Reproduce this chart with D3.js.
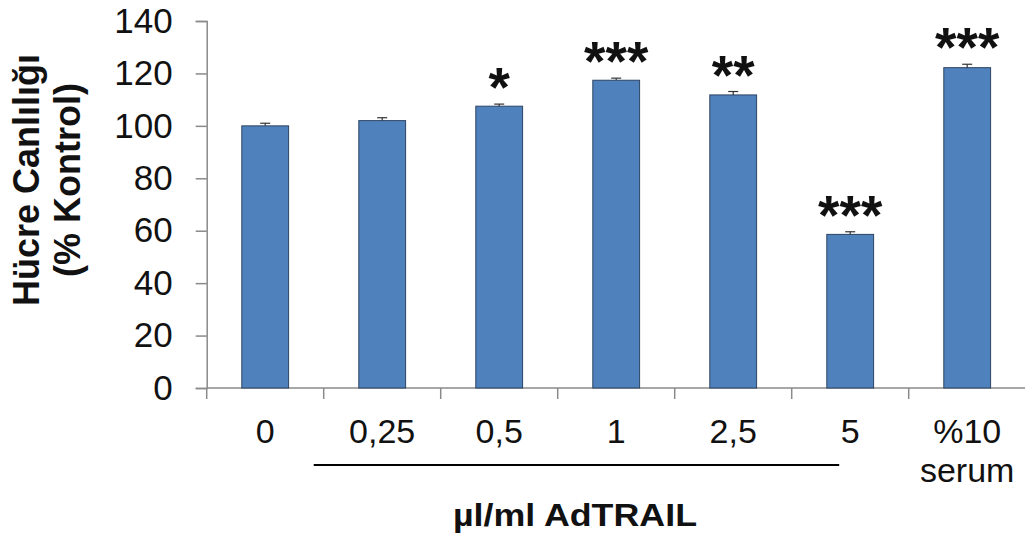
<!DOCTYPE html>
<html>
<head>
<meta charset="utf-8">
<script src="https://cdn.jsdelivr.net/npm/d3@7"></script>
<style>
  html, body { margin: 0; padding: 0; background: #fff; }
  svg { display: block; font-family: Arial, "Liberation Sans", sans-serif; }
</style>
</head>
<body>
<svg id="chart" width="1025" height="535"></svg>
<script>
// ---- data ----
const categories = ["0", "0,25", "0,5", "1", "2,5", "5", "%10 serum"];
const categoryLines = [["0"], ["0,25"], ["0,5"], ["1"], ["2,5"], ["5"], ["%10", "serum"]];
const values = [100, 102, 107.5, 117.4, 111.8, 58.6, 122.2];
const errors = [1.0, 1.1, 0.8, 0.8, 1.3, 1.0, 1.3];
const significance = ["", "", "*", "***", "**", "***", "***"];
const yTicks = [0, 20, 40, 60, 80, 100, 120, 140];
const yTitleLines = ["Hücre Canlılığı", "(% Kontrol)"];
const xTitle = "µl/ml AdTRAIL";
const groupedCategories = ["0,25", "0,5", "1", "2,5", "5"];

(function () {
// ---- layout ----
const svg = d3.select("#chart");
const left = 206.7, plotTop = 21, plotBottom = 388;
const bandW = 117;
const x = d3.scaleBand().domain(categories).range([left, left + bandW * categories.length]).padding(0);
const y = d3.scaleLinear().domain([0, 140]).range([plotBottom, plotTop]);
const barW = x.bandwidth() * 0.4;
const axisColor = "#8a8a8a";

// Y axis
const yAxis = svg.append("g")
  .attr("transform", `translate(${left},0)`)
  .call(d3.axisLeft(y).tickValues(yTicks).tickSize(11).tickPadding(23).tickFormat(d3.format("d")));
yAxis.select(".domain").attr("stroke", axisColor).attr("stroke-width", 1.5);
yAxis.selectAll(".tick line").attr("stroke", axisColor).attr("stroke-width", 1.5);
yAxis.selectAll(".tick text").attr("fill", "#111").attr("font-size", 35)
  .attr("font-family", "Arial, 'Liberation Sans', sans-serif");

// X axis line + boundary ticks
const xAxisG = svg.append("g");
xAxisG.append("line")
  .attr("x1", left).attr("x2", 1025).attr("y1", plotBottom).attr("y2", plotBottom)
  .attr("stroke", axisColor).attr("stroke-width", 1.5);
xAxisG.selectAll("line.tk")
  .data(categories)
  .join("line")
  .attr("class", "tk")
  .attr("x1", d => x(d)).attr("x2", d => x(d))
  .attr("y1", plotBottom).attr("y2", plotBottom + 11)
  .attr("stroke", axisColor).attr("stroke-width", 1.5);

// X labels
const lab = svg.append("g").selectAll("text")
  .data(categories)
  .join("text")
  .attr("x", d => x(d) + x.bandwidth() / 2)
  .attr("y", 443)
  .attr("text-anchor", "middle")
  .attr("font-size", 34)
  .attr("fill", "#111");
lab.each(function(d, i) {
  const t = d3.select(this);
  categoryLines[i].forEach((ln, j) => {
    t.append("tspan").attr("x", x(d) + x.bandwidth() / 2).attr("dy", j === 0 ? 0 : 39).text(ln);
  });
});

// bracket line under grouped categories
const g0 = groupedCategories[0], g1 = groupedCategories[groupedCategories.length - 1];
svg.append("line")
  .attr("x1", x(g0) - 10).attr("x2", x(g1) + x.bandwidth() / 2 - 11)
  .attr("y1", 465).attr("y2", 465)
  .attr("stroke", "#000").attr("stroke-width", 2);

// Bars
svg.append("g").selectAll("rect")
  .data(values)
  .join("rect")
  .attr("x", (d, i) => x(categories[i]) + (x.bandwidth() - barW) / 2)
  .attr("y", d => y(d))
  .attr("width", barW)
  .attr("height", d => plotBottom - y(d))
  .attr("fill", "#4F81BD")
  .attr("stroke", "#2c4463")
  .attr("stroke-width", 1);

// Error bars
const eb = svg.append("g").attr("stroke", "#333").attr("stroke-width", 1.2);
values.forEach((v, i) => {
  const cx = x(categories[i]) + x.bandwidth() / 2;
  eb.append("line").attr("x1", cx).attr("x2", cx).attr("y1", y(v)).attr("y2", y(v + errors[i]));
  eb.append("line").attr("x1", cx - 5).attr("x2", cx + 5).attr("y1", y(v + errors[i])).attr("y2", y(v + errors[i]));
});

// Significance stars
svg.append("g").selectAll("text")
  .data(significance)
  .join("text")
  .attr("x", (d, i) => x(categories[i]) + x.bandwidth() / 2)
  .attr("y", (d, i) => y(values[i] + errors[i]) + 2)
  .attr("text-anchor", "middle")
  .attr("font-size", 55)
  .attr("font-weight", "bold")
  .attr("fill", "#111")
  .text(d => d);

// Y title
const yt = svg.append("text")
  .attr("transform", "translate(0,180) rotate(-90)")
  .attr("text-anchor", "middle")
  .attr("font-size", 36)
  .attr("font-weight", "bold")
  .attr("fill", "#111");
yTitleLines.forEach((ln, j) => {
  yt.append("tspan").attr("x", 0).attr("y", j === 0 ? 39 : 80).text(ln);
});

// X title
svg.append("text")
  .attr("x", 575).attr("y", 526)
  .attr("text-anchor", "middle")
  .attr("font-size", 31)
  .attr("font-weight", "bold")
  .attr("textLength", 244)
  .attr("lengthAdjust", "spacingAndGlyphs")
  .attr("fill", "#111")
  .text(xTitle);
})();
</script>
</body>
</html>
